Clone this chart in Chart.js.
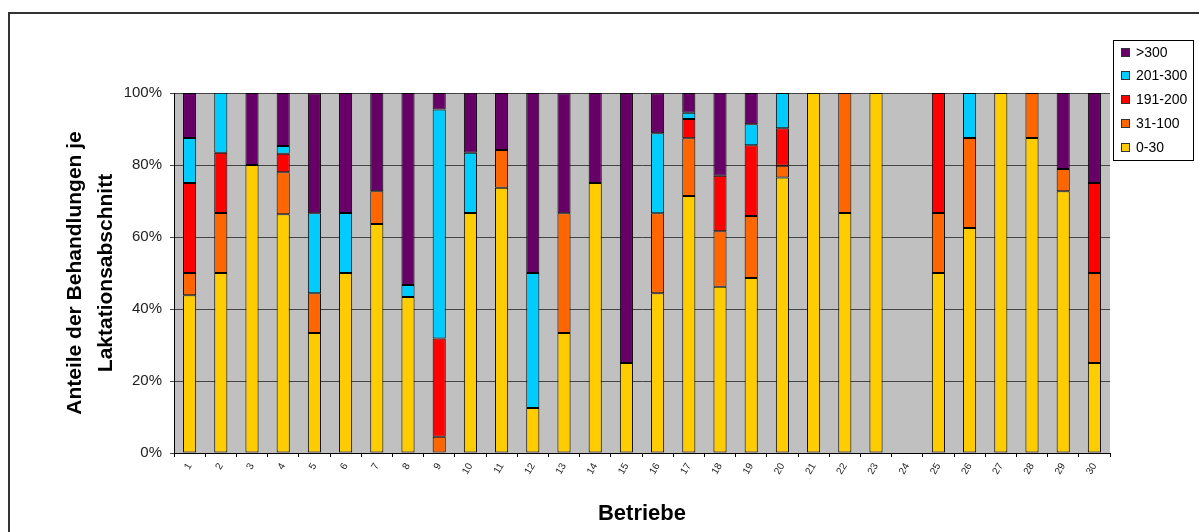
<!DOCTYPE html>
<html>
<head>
<meta charset="utf-8">
<script src="https://cdn.jsdelivr.net/npm/chart.js@4/dist/chart.umd.min.js"></script>
<style>
  body { margin: 0; overflow: hidden; background: #fff; }
  #frame { position: absolute; left: 8px; top: 12px; width: 1300px; height: 600px; border: 2px solid #333; }
  #chart { position: absolute; left: 0; top: 0; }
</style>
</head>
<body>
<div id="frame"></div>
<canvas id="chart" width="1199" height="532"></canvas>
<script>
// Betriebe 1..30, Anteile in %
var betriebe = ["1","2","3","4","5","6","7","8","9","10","11","12","13","14","15",
                "16","17","18","19","20","21","22","23","24","25","26","27","28","29","30"];
var teil0_30   = [43.8, 50, 80, 66.3, 33.3, 50, 63.6, 43.3, 0, 66.7, 73.7, 12.5, 33.3, 75, 25,
                  44.4, 71.4, 46.2, 48.6, 76.5, 100, 66.7, 100, 0, 50, 62.5, 100, 87.5, 72.7, 25];
var teil31_100 = [6.2, 16.7, 0, 11.7, 11.1, 0, 9.1, 0, 4.5, 0, 10.5, 0, 33.3, 0, 0,
                  22.2, 16.0, 15.4, 17.2, 3.3, 0, 33.3, 0, 0, 16.7, 25, 0, 12.5, 6.2, 25];
var teil191_200 = [25, 16.7, 0, 5.1, 0, 0, 0, 0, 27.3, 0, 0, 0, 0, 0, 0,
                   0, 5.4, 15.4, 19.7, 10.4, 0, 0, 0, 0, 33.3, 0, 0, 0, 0, 25];
var teil201_300 = [12.5, 16.7, 0, 2.2, 22.2, 16.7, 0, 3.4, 63.6, 16.7, 0, 37.5, 0, 0, 0,
                   22.2, 1.7, 0, 5.8, 9.8, 0, 0, 0, 0, 0, 12.5, 0, 0, 0, 0];
var teilUeber300 = [12.5, 0, 20, 14.7, 33.3, 33.3, 27.3, 53.3, 4.6, 16.7, 15.8, 50, 33.3, 25, 75,
                    11.1, 5.5, 23.1, 8.7, 0, 0, 0, 0, 0, 0, 0, 0, 0, 21.1, 25];
var yTicks = [0, 20, 40, 60, 80, 100];

var FONT = "'Liberation Sans', Arial, sans-serif";

// grauer Hintergrund der Zeichenfläche
var plotBg = {
    id: "plotBg",
    beforeDraw: function (chart) {
        var a = chart.chartArea, ctx = chart.ctx;
        ctx.save();
        ctx.fillStyle = "#c0c0c0";
        ctx.fillRect(a.left, a.top, a.right - a.left, a.bottom - a.top);
        ctx.restore();
    }
};

// Legende im Kasten oben rechts (wie Excel)
var boxLegend = {
    id: "boxLegend",
    afterDraw: function (chart) {
        var ctx = chart.ctx;
        ctx.save();
        ctx.fillStyle = "#fff";
        ctx.strokeStyle = "#000";
        ctx.lineWidth = 1;
        ctx.fillRect(1113.5, 40.5, 80, 120);
        ctx.strokeRect(1113.5, 40.5, 80, 120);
        var items = chart.data.datasets.slice().reverse();
        ctx.font = "14px " + FONT;
        ctx.textBaseline = "middle";
        items.forEach(function (ds, i) {
            var y = Math.round(52.7 + i * 23.7);
            ctx.fillStyle = ds.backgroundColor;
            ctx.fillRect(1121.5, y - 4.5, 8, 8);
            ctx.strokeStyle = "#333";
            ctx.strokeRect(1121.5, y - 4.5, 8, 8);
            ctx.fillStyle = "#000";
            ctx.fillText(ds.label, 1136, y);
        });
        ctx.restore();
    }
};

function serie(label, data, color) {
    return {
        label: label,
        data: data,
        backgroundColor: color,
        borderColor: "#000",
        borderWidth: 1,
        borderSkipped: false,
        barPercentage: 0.42,
        categoryPercentage: 1.0
    };
}

var ctx = document.getElementById("chart");
var chart = new Chart(ctx, {
    type: "bar",
    data: {
        labels: betriebe,
        datasets: [
            serie("0-30", teil0_30, "#ffcc00"),
            serie("31-100", teil31_100, "#ff6600"),
            serie("191-200", teil191_200, "#ff0000"),
            serie("201-300", teil201_300, "#00ccff"),
            serie(">300", teilUeber300, "#660066")
        ]
    },
    options: {
        responsive: false,
        animation: false,
        layout: { padding: { top: 93, right: 89, bottom: 0, left: 0 } },
        plugins: {
            legend: { display: false },
            tooltip: { enabled: false }
        },
        scales: {
            x: {
                stacked: true,
                grid: { display: true, drawOnChartArea: false, drawTicks: true, tickLength: 4, color: "#000", offset: true },
                border: { color: "#000" },
                ticks: {
                    autoSkip: false, maxRotation: 60, minRotation: 60, padding: 4,
                    color: "#222", font: { family: FONT, size: 10 }
                },
                title: {
                    display: true, text: "Betriebe", color: "#000",
                    font: { family: FONT, size: 22, weight: "bold" },
                    padding: { top: 0, bottom: 5 }
                },
                afterFit: function (scale) { scale.height = 79; }
            },
            y: {
                stacked: true,
                min: 0,
                max: 100,
                afterBuildTicks: function (scale) {
                    scale.ticks = yTicks.map(function (v) { return { value: v }; });
                },
                grid: { color: "#444", tickLength: 4 },
                border: { color: "#000" },
                ticks: {
                    padding: 8, color: "#222",
                    font: { family: FONT, size: 15 },
                    callback: function (v) { return v + "%"; }
                },
                title: {
                    display: true,
                    text: ["Anteile der Behandlungen je", "Laktationsabschnitt"],
                    color: "#000",
                    font: { family: FONT, size: 21, weight: "bold", lineHeight: 1.46 },
                    padding: { top: 60, bottom: 0 }
                },
                afterFit: function (scale) { scale.width = 174; }
            }
        }
    },
    plugins: [plotBg, boxLegend]
});
</script>
</body>
</html>
